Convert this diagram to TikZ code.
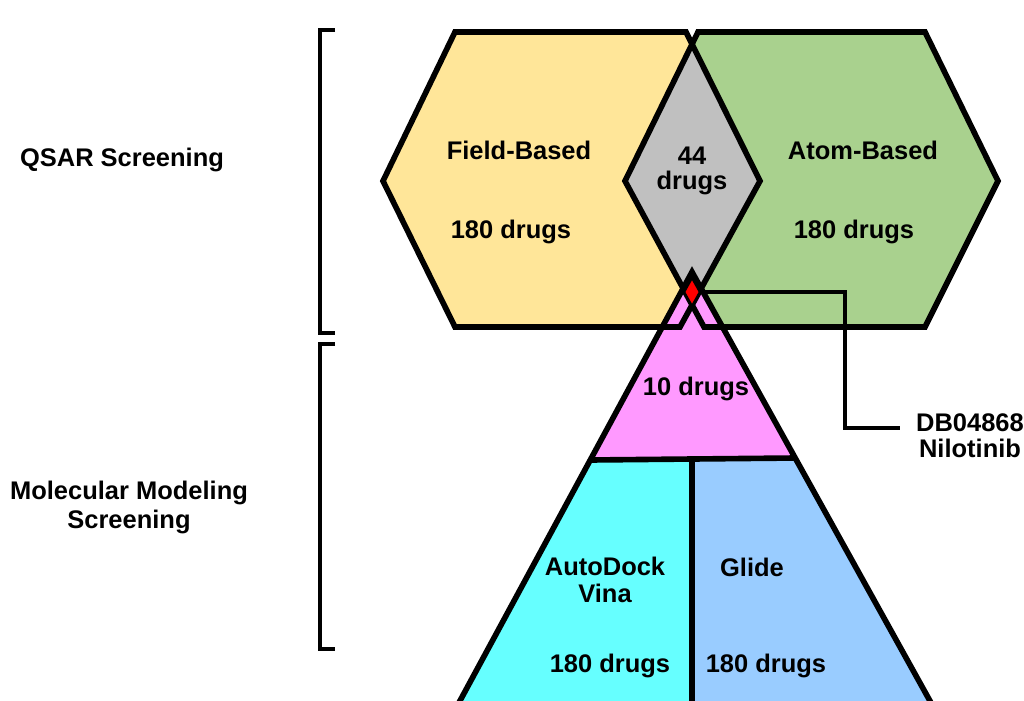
\documentclass[tikz,border=0pt]{standalone}
\usepackage{fontspec}
\setmainfont{Liberation Sans}
\usetikzlibrary{shapes.geometric}
\definecolor{fieldyellow}{HTML}{FFE699}
\definecolor{atomgreen}{HTML}{A9D18E}
\definecolor{sharedgray}{HTML}{C0C0C0}
\definecolor{tenpink}{HTML}{FF99FF}
\definecolor{vinacyan}{HTML}{66FFFF}
\definecolor{glideblue}{HTML}{99CCFF}
\begin{document}
\begin{tikzpicture}[x=0.02cm, y=-0.02cm,
every node/.style = {inner sep=0pt, align=center},
 txt/.style args = {#1/#2}{%
      font=\bfseries\fontsize{#1}{#2}\selectfont},
 outline/.style = {draw=black, line width=3.2pt, line join=miter},
 bracket/.style = {draw=black, line width=2.3pt},
 leader/.style = {draw=black, line width=2.3pt},
 hit/.style = {diamond, draw=black, line width=1pt, fill=red,
      minimum width=0.32cm, minimum height=0.56cm}
                    ]
\clip (0,0) rectangle (1024,700);
\fill[white] (0,0) rectangle (1024,700);
% hexagons
\fill[fieldyellow] (383,181) -- (455,32) -- (686,32) -- (760,181) -- (680,327) -- (455,327) -- cycle;
\fill[atomgreen] (625,181) -- (698,32) -- (925,32) -- (998,181) -- (925,327) -- (704,327) -- cycle;
\begin{scope}
\clip (383,181) -- (455,32) -- (686,32) -- (760,181) -- (680,327) -- (455,327) -- cycle;
\fill[sharedgray] (625,181) -- (698,32) -- (925,32) -- (998,181) -- (925,327) -- (704,327) -- cycle;
\end{scope}
% pyramid
\fill[tenpink] (692,272) -- (590,460) -- (795,458) -- cycle;
\fill[vinacyan] (590,460) -- (692,459) -- (692,710) -- (455,710) -- cycle;
\fill[glideblue] (692,459) -- (795,458) -- (935,710) -- (692,710) -- cycle;
%
\path[outline] (383,181) -- (455,32) -- (686,32) -- (760,181) -- (680,327) -- (455,327) -- cycle;
\path[outline] (625,181) -- (698,32) -- (925,32) -- (998,181) -- (925,327) -- (704,327) -- cycle;
\path[outline] (692,272) -- (455,710) -- (935,710) -- cycle;
\path[outline] (590,460) -- (795,458);
\path[outline] (692,459) -- (692,710);
% brackets
\path[bracket] (335,30) -- (320,30) -- (320,333) -- (335,333);
\path[bracket] (335,344) -- (320,344) -- (320,649) -- (335,649);
% labels
\node(qsar)     [txt=14.5/16.5] at (122,160) {QSAR Screening};
\node(molmod)   [txt=14.5/16.5] at (129,507) {Molecular Modeling\\Screening};
\node(fbname)   [txt=14.5/16.5] at (519,150) {Field-Based};
\node(fbnum)    [txt=14.5/16.5] at (511,232) {180 drugs};
\node(both)     [txt=14.5/14]   at (692,171) {44\\drugs};
\node(atname)   [txt=14.5/16.5] at (863,150) {Atom-Based};
\node(atnum)    [txt=14.5/16.5] at (854,232) {180 drugs};
\node(ten)      [txt=14.5/16.5] at (696,389) {10 drugs};
\node(vina)     [txt=14.5/15]   at (605,580) {AutoDock\\Vina};
\node(glide)    [txt=14.5/16.5] at (752,567) {Glide};
\node(vinanum)  [txt=14.5/16.5] at (610,666) {180 drugs};
\node(glidenum) [txt=14.5/16.5] at (766,666) {180 drugs};
\node(nilo)     [txt=14.5/15]   at (970,436) {DB04868\\Nilotinib};
% hit
\node(nil) [hit] at (692,292) {};
\coordinate (elb) at (845,428);
\coordinate (tip) at (900,428);
\path[leader] (nil.east) -| (elb) -- (tip);
\end{tikzpicture}
\end{document}
